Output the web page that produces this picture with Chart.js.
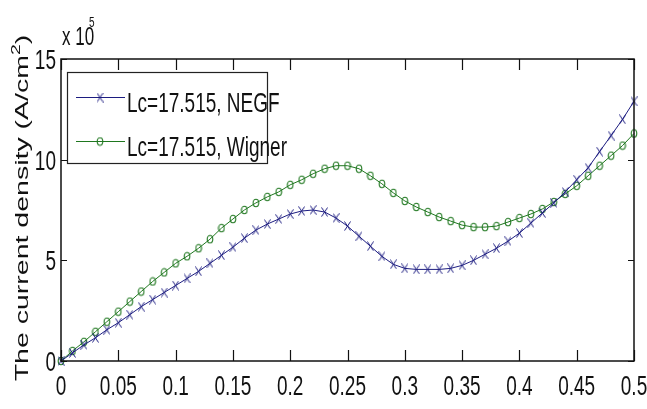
<!DOCTYPE html>
<html>
<head>
<meta charset="utf-8">
<script src="https://cdn.jsdelivr.net/npm/chart.js@4.4.1/dist/chart.umd.min.js"></script>
<style>
  html, body { margin: 0; padding: 0; background: #fff; overflow: hidden; }
  #wrap { width: 647px; height: 409px; }
  canvas { display: block; }
</style>
</head>
<body>
<div id="wrap"><canvas id="chart" width="647" height="409"></canvas></div>
<script>
// Bias (V) at which the current density was evaluated
const voltage = [
  0.00, 0.01, 0.02, 0.03, 0.04, 0.05, 0.06, 0.07, 0.08, 0.09,
  0.10, 0.11, 0.12, 0.13, 0.14, 0.15, 0.16, 0.17, 0.18, 0.19,
  0.20, 0.21, 0.22, 0.23, 0.24, 0.25, 0.26, 0.27, 0.28, 0.29,
  0.30, 0.31, 0.32, 0.33, 0.34, 0.35, 0.36, 0.37, 0.38, 0.39,
  0.40, 0.41, 0.42, 0.43, 0.44, 0.45, 0.46, 0.47, 0.48, 0.49, 0.50
];

// Current density, in units of 1e5 A/cm^2
const negf = [
  0.00, 0.40, 0.80, 1.15, 1.55, 1.90, 2.30, 2.70, 3.05, 3.40,
  3.75, 4.10, 4.45, 4.85, 5.25, 5.65, 6.10, 6.50, 6.80, 7.05,
  7.30, 7.45, 7.50, 7.40, 7.10, 6.70, 6.20, 5.70, 5.20, 4.80,
  4.60, 4.55, 4.55, 4.55, 4.60, 4.75, 5.00, 5.30, 5.60, 5.95,
  6.35, 6.85, 7.35, 7.85, 8.40, 9.00, 9.60, 10.40, 11.20, 12.00, 12.90
];

const wigner = [
  0.00, 0.50, 0.95, 1.45, 1.95, 2.45, 2.95, 3.45, 3.95, 4.40,
  4.85, 5.20, 5.60, 6.05, 6.60, 7.05, 7.50, 7.85, 8.15, 8.40,
  8.75, 9.00, 9.30, 9.55, 9.70, 9.70, 9.55, 9.20, 8.80, 8.35,
  7.95, 7.65, 7.40, 7.15, 6.95, 6.75, 6.65, 6.65, 6.70, 6.90,
  7.10, 7.30, 7.55, 7.90, 8.30, 8.70, 9.20, 9.70, 10.20, 10.70, 11.30
];

const seriesNames = ['Lc=17.515, NEGF', 'Lc=17.515, Wigner'];
const seriesColors = ['#1c1c80', '#1f771f'];

const xTicks = [0, 0.05, 0.1, 0.15, 0.2, 0.25, 0.3, 0.35, 0.4, 0.45, 0.5];
const xTickLabels = ['0', '0.05', '0.1', '0.15', '0.2', '0.25', '0.3', '0.35', '0.4', '0.45', '0.5'];
const yTicks = [0, 5, 10, 15];
const yTickLabels = ['0', '5', '10', '15'];

const yTitleMain = 'The current density (A/cm';
const yTitleSup = '2';
const yTitleEnd = ')';
const exponentBase = 'x 10';
const exponentPower = '5';

// Text in this figure is tall and narrow; draw it with a vertical stretch
const STRETCH = 1.5;
const NARROW = '"Liberation Sans Narrow", "Arial Narrow", "Liberation Sans", sans-serif';
const REGULAR = '"Liberation Sans", Arial, sans-serif';

// Marker images: an upright-stretched x and an upright-stretched ring
function makeCross(color) {
  const c = document.createElement('canvas');
  c.width = 7; c.height = 10;
  const g = c.getContext('2d');
  g.strokeStyle = color; g.lineWidth = 1;
  g.beginPath();
  g.moveTo(0.5, 0.5); g.lineTo(6.5, 9.5);
  g.moveTo(6.5, 0.5); g.lineTo(0.5, 9.5);
  g.stroke();
  return c;
}
function makeRing(color) {
  const c = document.createElement('canvas');
  c.width = 8; c.height = 10;
  const g = c.getContext('2d');
  g.strokeStyle = color; g.lineWidth = 1.1;
  g.beginPath();
  g.ellipse(4, 5, 2.8, 3.7, 0, 0, Math.PI * 2);
  g.stroke();
  return c;
}
const markers = [makeCross(seriesColors[0]), makeRing(seriesColors[1])];

function stretchedText(ctx, text, x, baseline, font, align) {
  ctx.save();
  ctx.translate(x, baseline);
  ctx.scale(1, STRETCH);
  ctx.font = font;
  ctx.textAlign = align;
  ctx.textBaseline = 'alphabetic';
  ctx.fillText(text, 0, 0);
  ctx.restore();
}

const framePlugin = {
  id: 'matlabFrame',
  afterDraw(chart) {
    const ctx = chart.ctx;
    const a = chart.chartArea;
    const xs = chart.scales.x, ys = chart.scales.y;
    ctx.save();

    // axes box
    ctx.strokeStyle = '#111';
    ctx.lineWidth = 1.5;
    ctx.strokeRect(a.left, a.top, a.right - a.left, a.bottom - a.top);

    // inward ticks on all four sides
    ctx.lineWidth = 1.2;
    ctx.beginPath();
    xTicks.forEach(v => {
      const px = Math.round(xs.getPixelForValue(v)) + 0.5;
      ctx.moveTo(px, a.bottom); ctx.lineTo(px, a.bottom - 11);
      ctx.moveTo(px, a.top); ctx.lineTo(px, a.top + 11);
    });
    yTicks.forEach(v => {
      const py = Math.round(ys.getPixelForValue(v)) + 0.5;
      ctx.moveTo(a.left, py); ctx.lineTo(a.left + 6, py);
      ctx.moveTo(a.right, py); ctx.lineTo(a.right - 6, py);
    });
    ctx.stroke();

    // tick labels
    ctx.fillStyle = '#111';
    xTicks.forEach((v, i) => {
      stretchedText(ctx, xTickLabels[i], xs.getPixelForValue(v), 395, '19px ' + NARROW, 'center');
    });
    yTicks.forEach((v, i) => {
      stretchedText(ctx, yTickLabels[i], 56, ys.getPixelForValue(v) + 10, '19px ' + NARROW, 'right');
    });

    // exponent marker above the y axis
    stretchedText(ctx, exponentBase, 62, 45, '17px ' + NARROW, 'left');
    stretchedText(ctx, exponentPower, 89, 27, '10px ' + NARROW, 'left');

    // rotated y-axis title with superscript
    ctx.save();
    ctx.translate(20, (a.top + a.bottom) / 2 - 2);
    ctx.rotate(-Math.PI / 2);
    ctx.scale(STRETCH, 1);
    ctx.textBaseline = 'alphabetic';
    ctx.textAlign = 'left';
    const mainFont = '19px ' + REGULAR, supFont = '13px ' + REGULAR;
    ctx.font = mainFont;
    const w1 = ctx.measureText(yTitleMain).width;
    const w3 = ctx.measureText(yTitleEnd).width;
    ctx.font = supFont;
    const w2 = ctx.measureText(yTitleSup).width;
    let x0 = -(w1 + w2 + w3) / 2;
    ctx.font = mainFont;
    ctx.fillText(yTitleMain, x0, 8);
    ctx.font = supFont;
    ctx.fillText(yTitleSup, x0 + w1, 0);
    ctx.font = mainFont;
    ctx.fillText(yTitleEnd, x0 + w1 + w2, 8);
    ctx.restore();

    // legend box
    const lx = 67, ly = 72, lw = 200, lh = 91;
    ctx.fillStyle = '#fff';
    ctx.fillRect(lx, ly, lw, lh);
    ctx.strokeStyle = '#222';
    ctx.lineWidth = 1.2;
    ctx.strokeRect(lx + 0.5, ly + 0.5, lw, lh);
    const rows = [{ line: 97, base: 112 }, { line: 141, base: 156 }];
    rows.forEach((r, i) => {
      ctx.strokeStyle = seriesColors[i];
      ctx.lineWidth = 1.1;
      ctx.beginPath();
      ctx.moveTo(76, r.line + 0.5); ctx.lineTo(125, r.line + 0.5);
      ctx.stroke();
      const m = markers[i];
      ctx.drawImage(m, 100 - m.width / 2, r.line + 0.5 - m.height / 2);
      ctx.fillStyle = '#111';
      stretchedText(ctx, seriesNames[i], 127, r.base, '19px ' + NARROW, 'left');
    });

    ctx.restore();
  }
};

const series = [negf, wigner];
new Chart(document.getElementById('chart'), {
  type: 'line',
  data: {
    datasets: series.map((vals, i) => ({
      label: seriesNames[i],
      data: vals.map((v, k) => ({ x: voltage[k], y: v })),
      borderColor: seriesColors[i],
      borderWidth: 1,
      pointStyle: markers[i],
      pointRadius: 4,
      tension: 0,
      fill: false,
      clip: false
    }))
  },
  options: {
    responsive: false,
    animation: false,
    events: [],
    layout: { padding: { top: 59, right: 13, left: 0, bottom: 0 } },
    plugins: { legend: { display: false }, tooltip: { enabled: false } },
    scales: {
      x: {
        type: 'linear', min: 0, max: 0.5,
        ticks: { display: false, stepSize: 0.05 },
        grid: { display: false },
        border: { display: false },
        afterFit(s) { s.height = 48; }
      },
      y: {
        type: 'linear', min: 0, max: 15,
        ticks: { display: false, stepSize: 5 },
        grid: { display: false },
        border: { display: false },
        afterFit(s) { s.width = 61; }
      }
    }
  },
  plugins: [framePlugin]
});
</script>
</body>
</html>
